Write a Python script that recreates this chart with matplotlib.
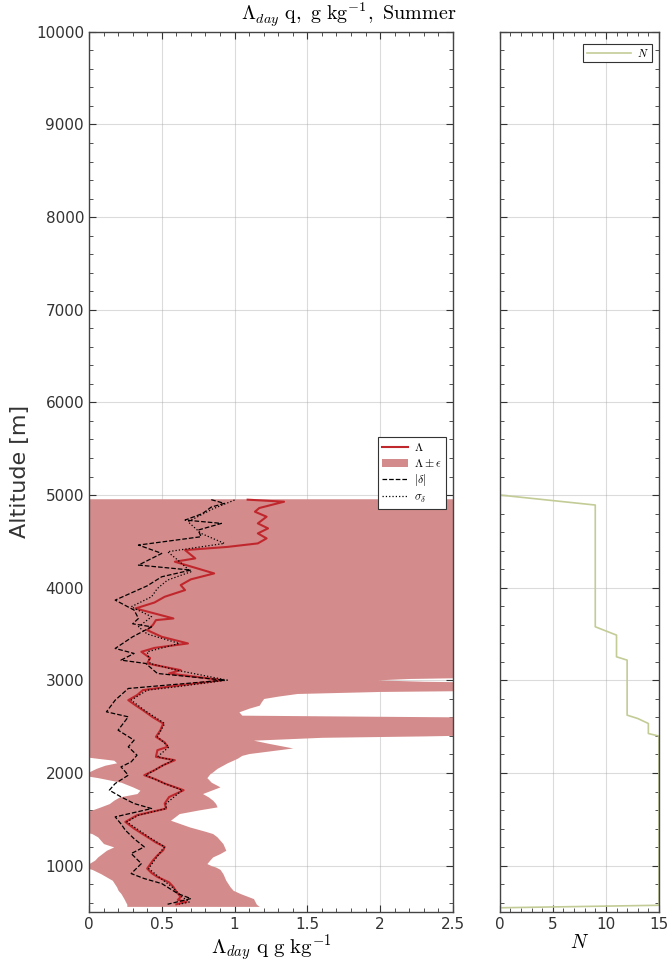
import numpy as np
import matplotlib
matplotlib.use("Agg")
from matplotlib import pyplot as plt
from matplotlib.ticker import MultipleLocator

plt.rcParams['mathtext.fontset'] = 'cm'

# --- profiles (altitude in m, values in g/kg) ---
alt_lam = [4950, 4928, 4860, 4820, 4766, 4694, 4640, 4586, 4532, 4478, 4440, 4406,
           4316, 4280, 4154, 4090, 4028, 3974, 3902, 3840, 3776, 3668, 3650, 3600,
           3542, 3470, 3398, 3350, 3308, 3240, 3182, 3110, 3074, 3002, 2930, 2894,
           2840, 2786, 2730, 2678, 2600, 2534, 2460, 2390, 2330, 2282, 2246, 2174,
           2138, 2084, 2030, 1976, 1930, 1886, 1814, 1740, 1670, 1616, 1544, 1472,
           1400, 1310, 1250, 1202, 1166, 1110, 1058, 968, 920, 878, 820, 770, 720,
           662, 630, 608, 583]
lam = [1.09, 1.34, 1.17, 1.14, 1.22, 1.16, 1.23, 1.16, 1.22, 1.16, 0.95, 0.66,
       0.73, 0.59, 0.86, 0.70, 0.63, 0.66, 0.52, 0.45, 0.32, 0.58, 0.46, 0.44,
       0.40, 0.50, 0.68, 0.45, 0.36, 0.42, 0.40, 0.63, 0.55, 0.92, 0.54, 0.37,
       0.33, 0.27, 0.32, 0.37, 0.44, 0.51, 0.49, 0.46, 0.52, 0.54, 0.47, 0.46,
       0.59, 0.51, 0.45, 0.38, 0.46, 0.52, 0.65, 0.55, 0.52, 0.53, 0.33, 0.25,
       0.31, 0.40, 0.46, 0.52, 0.51, 0.47, 0.44, 0.40, 0.43, 0.47, 0.55, 0.58,
       0.60, 0.63, 0.61, 0.67, 0.60]

alt_dlt = [4950, 4910, 4870, 4800, 4730, 4694, 4622, 4550, 4460, 4370, 4244, 4190,
           4118, 4020, 3866, 3758, 3668, 3610, 3578, 3470, 3344, 3290, 3218, 3182,
           3074, 3002, 2912, 2786, 2660, 2606, 2462, 2354, 2282, 2192, 2120, 2066,
           1976, 1886, 1814, 1742, 1670, 1616, 1526, 1450, 1382, 1290, 1202, 1130,
           1022, 914, 860, 806, 698, 644, 583]
dlt = [0.84, 0.93, 0.84, 0.78, 0.66, 0.91, 0.75, 0.77, 0.34, 0.50, 0.34, 0.70,
       0.50, 0.40, 0.18, 0.31, 0.34, 0.30, 0.43, 0.30, 0.18, 0.31, 0.22, 0.39,
       0.47, 0.93, 0.27, 0.18, 0.12, 0.27, 0.20, 0.31, 0.27, 0.33, 0.29, 0.22,
       0.27, 0.18, 0.14, 0.22, 0.31, 0.43, 0.18, 0.22, 0.25, 0.31, 0.38, 0.29,
       0.36, 0.29, 0.38, 0.50, 0.61, 0.70, 0.54]

alt_sig = [4946, 4850, 4712, 4586, 4478, 4388, 4298, 4172, 4082, 3992, 3902, 3794,
           3686, 3578, 3500, 3398, 3308, 3182, 3110, 3002, 2930, 2894, 2786, 2678,
           2534, 2390, 2282, 2174, 2138, 2084, 1976, 1886, 1814, 1670, 1616, 1544,
           1472, 1310, 1202, 1166, 1058, 968, 878, 770, 662, 608, 583]
sig = [1.00, 0.85, 0.68, 0.77, 0.93, 0.54, 0.61, 0.70, 0.54, 0.47, 0.43, 0.29,
       0.43, 0.34, 0.40, 0.62, 0.40, 0.42, 0.60, 0.95, 0.60, 0.40, 0.29, 0.38,
       0.52, 0.47, 0.55, 0.47, 0.58, 0.51, 0.39, 0.52, 0.64, 0.53, 0.53, 0.34,
       0.26, 0.41, 0.52, 0.50, 0.45, 0.41, 0.48, 0.57, 0.64, 0.69, 0.62]

# Lambda - eps / Lambda + eps envelope
alt_band = [4960, 3040, 3020, 3005, 2990, 2975, 2895, 2880, 2858, 2830, 2804, 2760,
            2732, 2700, 2660, 2624, 2612, 2600, 2420, 2400, 2385, 2354, 2318, 2270,
            2240, 2210, 2190, 2160, 2138, 2110, 2084, 2050, 2012, 1990, 1970, 1950,
            1900, 1850, 1814, 1778, 1742, 1706, 1670, 1634, 1600, 1562, 1490, 1418,
            1370, 1346, 1310, 1238, 1202, 1166, 1130, 1094, 1060, 1022, 1000, 985,
            960, 914, 842, 770, 734, 698, 644, 583, 560]
eps_lo = [-0.6, -0.6, -0.6, -0.6, -0.6, -0.6, -0.6, -0.6, -0.6, -0.6, -0.6, -0.6,
          -0.6, -0.6, -0.6, -0.6, -0.6, -0.6, -0.6, -0.6, -0.6, -0.6, -0.6, -0.6,
          -0.5, -0.3, -0.1, 0.05, 0.17, 0.19, 0.11, 0.05, 0.0, -0.05, -0.02, 0.06,
          0.22, 0.30, 0.35, 0.33, 0.21, 0.17, 0.14, 0.08, 0.02, -0.05, -0.2, -0.2,
          -0.05, 0.02, 0.06, 0.10, 0.17, 0.12, 0.09, 0.06, 0.04, 0.0, -0.05, -0.05,
          0.02, 0.08, 0.16, 0.19, 0.20, 0.22, 0.24, 0.26, 0.26]
eps_hi = [3.0, 3.0, 2.2, 1.98, 2.3, 3.0, 3.0, 2.0, 1.43, 1.30, 1.20, 1.18,
          1.17, 1.10, 1.03, 1.05, 2.0, 3.0, 3.0, 2.3, 1.6, 1.13, 1.24, 1.40,
          1.25, 1.10, 1.05, 1.02, 0.99, 0.95, 0.92, 0.88, 0.85, 0.83, 0.82, 0.81,
          0.84, 0.90, 0.84, 0.78, 0.82, 0.85, 0.87, 0.88, 0.75, 0.62, 0.56, 0.69,
          0.80, 0.85, 0.88, 0.92, 0.93, 0.94, 0.90, 0.85, 0.83, 0.81, 0.84, 0.87,
          0.90, 0.92, 0.94, 0.97, 0.99, 1.04, 1.13, 1.15, 1.17]

# number of samples N
alt_n = [10000, 5000, 4892, 3578, 3524, 3488, 3254, 3218, 2624, 2588, 2534, 2426,
         2398, 572, 545]
n_obs = [0, 0, 9, 9, 10.2, 11, 11, 12, 12, 13, 14, 14, 15, 15, 0]

fill_col = '#d48b8b'
red_col = '#c0272d'
n_col = '#c3cc96'

fig = plt.figure(figsize=(6.69, 9.64), dpi=100)
ax1 = fig.add_axes([0.133, 0.054, 0.544, 0.913])
ax2 = fig.add_axes([0.747, 0.054, 0.238, 0.913], sharey=ax1)

band = ax1.fill_betweenx(alt_band, eps_lo, eps_hi, color=fill_col, lw=0, zorder=2)
l_lam, = ax1.plot(lam, alt_lam, color=red_col, lw=1.5, zorder=3)
l_dlt, = ax1.plot(dlt, alt_dlt, 'k--', lw=0.9, zorder=4)
l_sig, = ax1.plot(sig, alt_sig, 'k:', lw=0.9, zorder=4)

ax2.plot(n_obs, alt_n, color=n_col, lw=1.2, label=r'$N$')

for ax in (ax1, ax2):
    ax.grid(True, color='#9a9a9a', lw=0.8, alpha=0.35)
    ax.tick_params(which='both', direction='in', top=True, right=True,
                   labelsize=11, labelcolor='#333333', color='#333333')
    ax.tick_params(which='major', length=5)
    ax.tick_params(which='minor', length=3)
    ax.yaxis.set_major_locator(MultipleLocator(1000))
    ax.yaxis.set_minor_locator(MultipleLocator(200))
    for s in ax.spines.values():
        s.set_color('#444444')
        s.set_linewidth(1.0)

for gl in ax1.get_xgridlines() + ax1.get_ygridlines():
    gl.set_zorder(2.5)

ax1.set_ylim(500, 10000)
ax1.set_xlim(0, 2.5)
ax1.set_xticks([0, 0.5, 1, 1.5, 2, 2.5])
ax1.set_xticklabels(['0', '0.5', '1', '1.5', '2', '2.5'])
ax1.xaxis.set_minor_locator(MultipleLocator(0.1))
ax1.set_ylabel('Altitude [m]', fontsize=16, color='#333333')
ax1.set_xlabel(r'$\Lambda_{day}\ \mathrm{q\ g\ kg^{-1}}$', fontsize=15, labelpad=1)

ax2.set_xlim(0, 15)
ax2.set_xticks([0, 5, 10, 15])
ax2.xaxis.set_minor_locator(MultipleLocator(1))
ax2.tick_params(labelleft=False)
ax2.set_xlabel(r'$N$', fontsize=14, labelpad=1)

leg = ax1.legend([l_lam, band, l_dlt, l_sig],
                 [r'$\Lambda$', r'$\Lambda \pm \epsilon$', r'$|\delta|$', r'$\sigma_\delta$'],
                 loc='upper right', bbox_to_anchor=(0.997, 0.546), fontsize=8.5,
                 fancybox=False, edgecolor='#333333', framealpha=1,
                 handlelength=2.2, borderpad=0.35, labelspacing=0.2, handletextpad=0.5)
leg.get_frame().set_linewidth(0.8)
leg2 = ax2.legend(loc='upper right', bbox_to_anchor=(0.99, 0.993), fontsize=8,
                  fancybox=False, edgecolor='#333333', framealpha=1,
                  handlelength=4, borderpad=0.3, handletextpad=0.5)
leg2.get_frame().set_linewidth(0.8)

fig.text(0.522, 0.985, r'$\Lambda_{day}\ \mathrm{q,\ g\ kg^{-1},\ Summer}$',
         ha='center', va='center', fontsize=14.5)

fig.savefig('out.png', dpi=100)
